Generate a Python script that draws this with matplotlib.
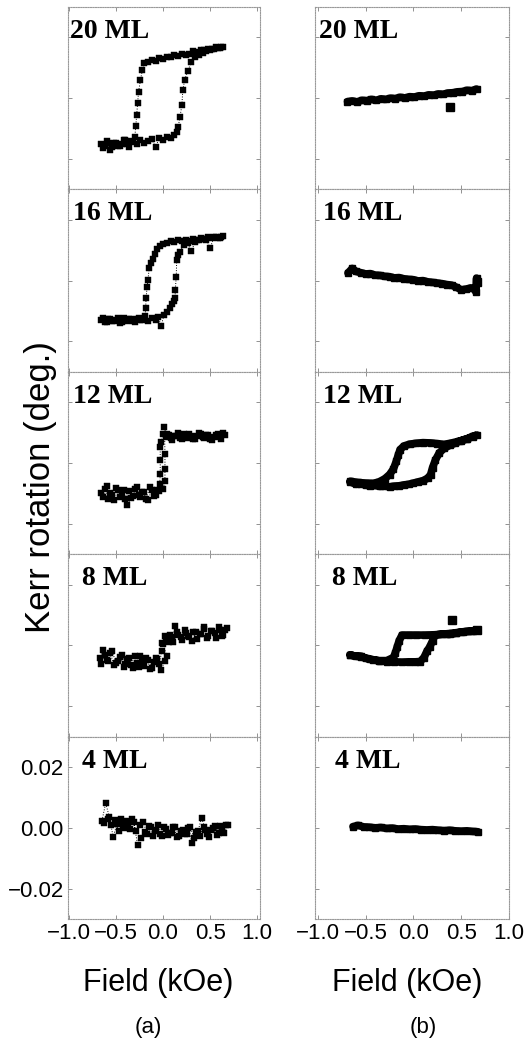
import matplotlib
matplotlib.use("Agg")
import matplotlib.pyplot as plt

plt.rcParams['font.family'] = ['Liberation Sans', 'DejaVu Sans']

# ---------------- data ----------------
labels = ["20 ML", "16 ML", "12 ML", "8 ML", "4 ML"]
xtick_vals = [-1.0, -0.5, 0.0, 0.5, 1.0]
xtick_text = ["\u22121.0", "\u22120.5", "0.0", "0.5", "1.0"]
ytick_vals = [-0.02, 0.0, 0.02]
ytick_text = ["\u22120.02", "0.00", "0.02"]

# column (a): field (kOe) and Kerr rotation (deg.), descending then ascending branch
h20a = [0.64, 0.60, 0.56, 0.52, 0.48, 0.44, 0.40, 0.36, 0.32, 0.28, 0.24, 0.20, 0.16, 0.12, 0.08, 0.04, 0.00,
        -0.04, -0.08, -0.12, -0.16, -0.20,
        -0.22, -0.24, -0.26, -0.27, -0.28, -0.29, -0.30,
        -0.34, -0.38, -0.42, -0.46, -0.50, -0.54, -0.58, -0.62, -0.66,
        -0.64, -0.60, -0.56, -0.52, -0.48, -0.44, -0.40, -0.36, -0.32, -0.28, -0.24, -0.20, -0.16, -0.12,
        -0.08, -0.04, 0.00, 0.04, 0.08, 0.12,
        0.15, 0.16, 0.18, 0.20, 0.21, 0.23, 0.26,
        0.30, 0.34, 0.38, 0.42, 0.46, 0.50, 0.54, 0.58, 0.62]
k20a = [0.0170, 0.0166, 0.0167, 0.0161, 0.0163, 0.0157, 0.0160, 0.0152, 0.0154, 0.0147, 0.0143, 0.0146, 0.0139,
        0.0141, 0.0134, 0.0136, 0.0129, 0.0131, 0.0124, 0.0127, 0.0120, 0.0116,
        0.0092, 0.0060, 0.0022, -0.0015, -0.0055, -0.0092, -0.0128,
        -0.0142, -0.0150, -0.0137, -0.0156, -0.0146, -0.0162, -0.0148, -0.0158, -0.0152,
        -0.0165, -0.0140, -0.0172, -0.0148, -0.0158, -0.0150, -0.0136, -0.0160, -0.0143, -0.0150, -0.0139,
        -0.0146, -0.0141, -0.0135, -0.0160, -0.0132, -0.0138, -0.0128, -0.0131, -0.0122,
        -0.0110, -0.0095, -0.0062, -0.0022, 0.0027, 0.0060, 0.0088,
        0.0118, 0.0134, 0.0141, 0.0149, 0.0154, 0.0158, 0.0161, 0.0165, 0.0168]

h16a = [0.64, 0.60, 0.56, 0.52, 0.48, 0.44, 0.40, 0.36, 0.32, 0.28, 0.24, 0.20, 0.16, 0.12, 0.08, 0.04, 0.00,
        -0.03, -0.06, -0.09, -0.11, -0.13,
        -0.148, -0.16, -0.17, -0.18, -0.185, -0.19,
        -0.22, -0.26, -0.30, -0.34, -0.38, -0.42, -0.46, -0.50, -0.54, -0.58, -0.62, -0.66,
        -0.64, -0.60, -0.56, -0.52, -0.48, -0.44, -0.40, -0.36, -0.32, -0.28, -0.24, -0.20, -0.16, -0.12,
        -0.08, -0.05,
        -0.02, 0.01, 0.04, 0.075, 0.10, 0.12,
        0.128, 0.13, 0.14, 0.145, 0.16, 0.18,
        0.22, 0.26, 0.30, 0.34, 0.38, 0.42, 0.46, 0.50, 0.54, 0.58, 0.62]
k16a = [0.0146, 0.0141, 0.0145, 0.0139, 0.0143, 0.0137, 0.0140, 0.0134, 0.0138, 0.0131, 0.0135, 0.0129, 0.0132,
        0.0126, 0.0129, 0.0124, 0.0120, 0.0114, 0.0104, 0.0088, 0.0072, 0.0058,
        0.0040, 0.0002, -0.0022, -0.0057, -0.0090, -0.0115,
        -0.0128, -0.0122, -0.0135, -0.0126, -0.0132, -0.0124, -0.0138, -0.0128, -0.0134, -0.0125, -0.0137, -0.0130,
        -0.0122, -0.0136, -0.0127, -0.0133, -0.0124, -0.0135, -0.0129, -0.0126, -0.0134, -0.0125, -0.0131,
        -0.0127, -0.0133, -0.0124, -0.0128, -0.0121,
        -0.0150, -0.0112, -0.0104, -0.0090, -0.0078, -0.0068,
        -0.0058, -0.0031, 0.0013, 0.0068, 0.0085, 0.0095,
        0.0118, 0.0124, 0.0096, 0.0128, 0.0134, 0.0137, 0.0135, 0.0107, 0.0142, 0.0139, 0.0145]

h12a = [0.66, 0.62, 0.58, 0.54, 0.50, 0.46, 0.42, 0.38, 0.34, 0.30, 0.26, 0.22, 0.18, 0.14, 0.10, 0.06, 0.03,
        0.00, -0.02, -0.03,
        -0.03, -0.03, -0.035,
        -0.06, -0.10, -0.14, -0.18, -0.22, -0.26, -0.30, -0.34, -0.38, -0.42, -0.46, -0.50, -0.54, -0.58,
        -0.62, -0.66,
        -0.64, -0.60, -0.56, -0.52, -0.48, -0.44, -0.40, -0.36, -0.32, -0.28, -0.24, -0.20, -0.16, -0.12,
        -0.08, -0.04, 0.00, 0.02,
        0.02, 0.02, 0.015,
        0.04, 0.08, 0.12, 0.16, 0.20, 0.24, 0.28, 0.32, 0.36, 0.40, 0.44, 0.48, 0.52, 0.56, 0.60, 0.64]
k12a = [0.0092, 0.0080, 0.0096, 0.0084, 0.0078, 0.0093, 0.0086, 0.0098, 0.0079, 0.0090, 0.0083, 0.0095, 0.0081,
        0.0088, 0.0076, 0.0091, 0.0084, 0.0097, 0.0070, 0.0052,
        0.0010, -0.0035, -0.0070,
        -0.0088, -0.0110, -0.0079, -0.0118, -0.0095, -0.0106, -0.0084, -0.0115, -0.0137, -0.0090, -0.0112,
        -0.0082, -0.0104, -0.0120, -0.0086, -0.0100,
        -0.0112, -0.0076, -0.0098, -0.0121, -0.0089, -0.0104, -0.0117, -0.0091, -0.0108, -0.0080, -0.0113,
        -0.0097, -0.0122, -0.0088, -0.0106, -0.0093, -0.0085, -0.0060,
        -0.0020, 0.0030, 0.0119,
        0.0094, 0.0082, 0.0090, 0.0099, 0.0080, 0.0087, 0.0094, 0.0078, 0.0089, 0.0096, 0.0083, 0.0091,
        0.0077, 0.0093, 0.0086, 0.0098]

h8a = [0.68, 0.64, 0.60, 0.56, 0.52, 0.48, 0.44, 0.40, 0.36, 0.32, 0.28, 0.24, 0.20, 0.16, 0.13, 0.10, 0.06,
       0.02, -0.01,
       -0.015,
       -0.04, -0.08, -0.12, -0.16, -0.20, -0.24, -0.28, -0.32, -0.36, -0.40, -0.44, -0.48, -0.52, -0.56,
       -0.60, -0.64, -0.67,
       -0.66, -0.62, -0.58, -0.54, -0.50, -0.46, -0.42, -0.38, -0.34, -0.30, -0.26, -0.22, -0.18, -0.14,
       -0.10, -0.06, -0.02, 0.02, 0.04,
       0.00,
       0.03, 0.07, 0.11, 0.15, 0.19, 0.23, 0.27, 0.31, 0.35, 0.39, 0.43, 0.47, 0.51, 0.55, 0.59, 0.63, 0.66]
k8a = [0.0058, 0.0035, 0.0050, 0.0024, 0.0046, 0.0030, 0.0055, 0.0038, 0.0022, 0.0044, 0.0028, 0.0040, 0.0018,
       0.0035, 0.0064, 0.0026, 0.0012, 0.0030, 0.0008,
       -0.0020,
       -0.0062, -0.0040, -0.0075, -0.0048, -0.0068, -0.0035, -0.0058, -0.0074, -0.0042, -0.0060, -0.0030,
       -0.0052, -0.0066, -0.0025, -0.0048, -0.0015, -0.0040,
       -0.0060, -0.0032, -0.0050, -0.0020, -0.0058, -0.0038, -0.0070, -0.0046, -0.0064, -0.0035, -0.0072,
       -0.0052, -0.0040, -0.0076, -0.0056, -0.0044, -0.0080, -0.0050, -0.0036,
       0.0005,
       0.0020, 0.0034, 0.0010, 0.0045, 0.0026, 0.0052, 0.0030, 0.0016, 0.0044, 0.0036, 0.0060, 0.0025,
       0.0048, 0.0040, 0.0062, 0.0032, 0.0052]

h4a = [0.69, 0.65, 0.61, 0.57, 0.53, 0.49, 0.45, 0.41, 0.37, 0.33, 0.29, 0.25, 0.21, 0.17, 0.13, 0.09, 0.05,
       0.01, -0.03, -0.07, -0.11, -0.15, -0.19, -0.23, -0.27, -0.31, -0.35, -0.39, -0.43, -0.47, -0.51,
       -0.55, -0.59, -0.63,
       -0.65, -0.61, -0.57, -0.53, -0.49, -0.45, -0.41, -0.37, -0.33, -0.29, -0.25, -0.21, -0.17, -0.13,
       -0.09, -0.05, -0.01, 0.03, 0.07, 0.11, 0.15, 0.19, 0.23, 0.27, 0.31, 0.35, 0.39, 0.43, 0.47, 0.51,
       0.55, 0.59, 0.63, 0.67]
k4a = [0.0010, -0.0018, 0.0005, -0.0025, 0.0000, -0.0030, -0.0008, 0.0033, -0.0012, -0.0035, 0.0002, -0.0020,
       -0.0006, -0.0028, 0.0004, -0.0016, -0.0024, 0.0003, -0.0019, -0.0008, -0.0026, 0.0006, -0.0015,
       -0.0032, -0.0057, 0.0018, -0.0004, 0.0022, 0.0008, -0.0012, 0.0025, 0.0010, 0.0030, 0.0015,
       0.0022, 0.0081, 0.0035, -0.0030, 0.0012, 0.0028, -0.0002, 0.0016, 0.0030, -0.0010, 0.0008, 0.0020,
       -0.0022, 0.0001, -0.0012, 0.0010, -0.0028, -0.0005, -0.0018, 0.0002, -0.0030, -0.0010, -0.0022,
       0.0000, -0.0050, -0.0014, -0.0026, 0.0004, -0.0020, -0.0008, 0.0006, -0.0016, -0.0004, 0.0008]

# column (b)
h20b = [-0.69, -0.64, -0.59, -0.54, -0.49, -0.44, -0.39, -0.34, -0.29, -0.24, -0.19, -0.14, -0.09, -0.04,
        0.01, 0.06, 0.11, 0.16, 0.21, 0.26, 0.31, 0.36, 0.41, 0.46, 0.51, 0.56, 0.61, 0.66]
k20b = [-0.0011, -0.0009, -0.0012, -0.0007, -0.0008, -0.0004, -0.0007, -0.0002, -0.0004, 0.0000, -0.0001,
        0.0003, 0.0001, 0.0005, 0.0004, 0.0008, 0.0007, 0.0011, 0.0010, 0.0014, 0.0013, 0.0017, 0.0018,
        0.0021, 0.0022, 0.0026, 0.0025, 0.0030]
h20b_out = [0.38]
k20b_out = [-0.0030]

h16b = [-0.685, -0.64, -0.60, -0.55, -0.50, -0.45, -0.40, -0.35, -0.30, -0.25, -0.20, -0.15, -0.10, -0.05,
        0.00, 0.05, 0.10, 0.15, 0.20, 0.25, 0.30, 0.35, 0.40, 0.45, 0.50, 0.55, 0.60, 0.64, 0.655, 0.66]
k16b = [0.0025, 0.0040, 0.0030, 0.0026, 0.0022, 0.0023, 0.0018, 0.0017, 0.0014, 0.0013, 0.0009, 0.0010,
        0.0006, 0.0004, 0.0003, -0.0001, 0.0000, -0.0004, -0.0006, -0.0008, -0.0010, -0.0013, -0.0015,
        -0.0022, -0.0030, -0.0028, -0.0024, -0.0028, -0.0038, 0.0008]
h16b_out = [0.66]
k16b_out = [-0.0005]

h12b = [-0.664, -0.60, -0.55, -0.50, -0.45, -0.40, -0.35, -0.30, -0.25, -0.20, -0.15, -0.10, -0.05, 0.00,
        0.05, 0.10, 0.15, 0.18, 0.20, 0.23, 0.27, 0.32, 0.38, 0.44, 0.50, 0.56, 0.62, 0.665,
        0.62, 0.55, 0.48, 0.40, 0.32, 0.25, 0.18, 0.10, 0.03, -0.04, -0.10, -0.14, -0.16, -0.18, -0.21,
        -0.25, -0.30, -0.36, -0.42, -0.50, -0.58, -0.66]
k12b = [-0.0062, -0.0070, -0.0068, -0.0073, -0.0075, -0.0074, -0.0077, -0.0076, -0.0078, -0.0076, -0.0075,
        -0.0072, -0.0070, -0.0066, -0.0062, -0.0058, -0.0050, -0.0038, -0.0015, 0.0010, 0.0033, 0.0048,
        0.0058, 0.0066, 0.0074, 0.0080, 0.0088, 0.0092,
        0.0086, 0.0078, 0.0072, 0.0066, 0.0061, 0.0064, 0.0066, 0.0067, 0.0065, 0.0062, 0.0056, 0.0044,
        0.0025, 0.0005, -0.0020, -0.0038, -0.0052, -0.0062, -0.0067, -0.0066, -0.0064, -0.0060]
h12b_out = []
k12b_out = []

h8b = [-0.664, -0.60, -0.55, -0.50, -0.42, -0.35, -0.28, -0.20, -0.12, -0.05, 0.02, 0.07, 0.11, 0.14, 0.17,
       0.20, 0.22, 0.28, 0.34, 0.40, 0.45, 0.50, 0.56, 0.62, 0.66,
       0.60, 0.52, 0.45, 0.38, 0.30, 0.22, 0.12, 0.03, -0.05, -0.12, -0.15, -0.17, -0.19, -0.21, -0.28,
       -0.36, -0.45, -0.55, -0.66]
k8b = [-0.0031, -0.0036, -0.0035, -0.0042, -0.0048, -0.0051, -0.0053, -0.0054, -0.0055, -0.0054, -0.0054,
       -0.0053, -0.0040, -0.0020, -0.0005, 0.0015, 0.0034, 0.0036, 0.0038, 0.0040, 0.0042, 0.0044, 0.0046,
       0.0048, 0.0050,
       0.0046, 0.0045, 0.0041, 0.0036, 0.0037, 0.0035, 0.0034, 0.0034, 0.0034, 0.0034, 0.0015, -0.0005,
       -0.0025, -0.0040, -0.0050, -0.0050, -0.0046, -0.0038, -0.0032]
h8b_out = [0.40, 0.66]
k8b_out = [0.0083, 0.0050]

h4b = [-0.632, -0.58, -0.52, -0.46, -0.40, -0.34, -0.28, -0.22, -0.16, -0.10, -0.04, 0.02, 0.08, 0.14, 0.20,
       0.26, 0.32, 0.38, 0.44, 0.50, 0.56, 0.62, 0.675]
k4b = [0.0004, 0.0008, 0.0003, 0.0002, 0.0000, 0.0001, -0.0002, -0.0001, -0.0004, -0.0003, -0.0005, -0.0004,
       -0.0006, -0.0007, -0.0006, -0.0008, -0.0009, -0.0008, -0.0010, -0.0011, -0.0010, -0.0012, -0.0013]
h4b_out = []
k4b_out = []

col_a = [(h20a, k20a), (h16a, k16a), (h12a, k12a), (h8a, k8a), (h4a, k4a)]
col_b = [(h20b, k20b, h20b_out, k20b_out), (h16b, k16b, h16b_out, k16b_out),
         (h12b, k12b, h12b_out, k12b_out), (h8b, k8b, h8b_out, k8b_out), (h4b, k4b, h4b_out, k4b_out)]

# ---------------- layout ----------------
W, H = 529, 1041
fig = plt.figure(figsize=(W / 100, H / 100), dpi=100)

top_px = 7
panel_px = 182.4
col_left = {"a": (68, 192), "b": (315, 194)}
col_xlim = {"a": (-1.01, 1.03), "b": (-1.03, 1.0)}
label_dx = {"a": [2, 5, 5, 14, 14], "b": [4, 8, 8, 17, 20]}


def style_axes(ax, row, col):
    for sp in ax.spines.values():
        sp.set_color('0.6')
        sp.set_linewidth(0.8)
        sp.set_linestyle((0, (1, 1.2)))
    ax.set_xlim(*col_xlim[col])
    ax.set_ylim(-0.03, 0.03)
    ax.set_xticks(xtick_vals)
    ax.set_xticklabels(xtick_text)
    ax.set_yticks(ytick_vals)
    ax.set_yticklabels(ytick_text)
    ax.tick_params(direction='in', length=3, width=0.6, color='0.5',
                   top=True, right=True, labelsize=16)
    ax.tick_params(axis='x', pad=3)
    ax.tick_params(axis='y', pad=3)
    ax.tick_params(labelbottom=(row == 4), labelleft=(row == 4 and col == "a"))
    x0, w = col_left[col]
    ax.text(label_dx[col][row] / w, 1 - 31 / panel_px, labels[row],
            transform=ax.transAxes, ha='left', va='baseline',
            fontfamily='Liberation Serif', fontweight='bold', fontsize=20)


for row in range(5):
    y_bottom = top_px + panel_px * (row + 1)
    for col in ("a", "b"):
        x0, w = col_left[col]
        ax = fig.add_axes([x0 / W, 1 - y_bottom / H, w / W, panel_px / H])
        style_axes(ax, row, col)
        if col == "a":
            h, k = col_a[row]
            ax.plot(h, k, color='black', lw=0.7, ls=':', marker='s', ms=4.8,
                    mec='black', mew=0.3)
        else:
            h, k, ho, ko = col_b[row]
            ax.plot(h, k, color='black', lw=5.5, solid_capstyle='round',
                    solid_joinstyle='round', marker='s', ms=4)
            if ho:
                ax.plot(ho, ko, color='black', ls='none', marker='s', ms=5.5)

fig.text(41 / W, 1 - 487 / H, "Kerr rotation (deg.)", rotation=90,
         ha='center', va='center', fontsize=25)
fig.text(158 / W, 1 - 983 / H, "Field (kOe)", ha='center', va='center', fontsize=22)
fig.text(407 / W, 1 - 983 / H, "Field (kOe)", ha='center', va='center', fontsize=22)
fig.text(148 / W, 1 - 1027 / H, "(a)", ha='center', va='center', fontsize=16)
fig.text(423 / W, 1 - 1027 / H, "(b)", ha='center', va='center', fontsize=16)

fig.savefig("out.png", dpi=100)
